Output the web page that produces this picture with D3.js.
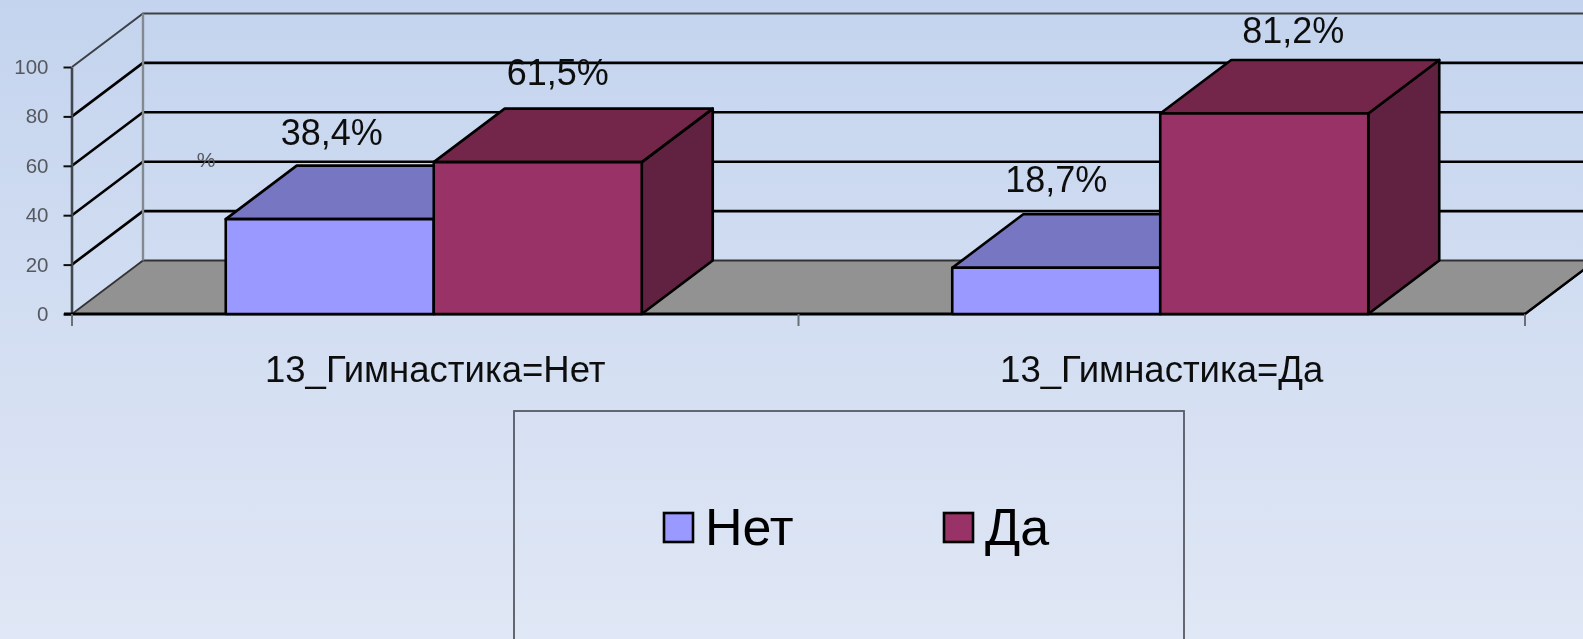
<!DOCTYPE html>
<html><head><meta charset="utf-8">
<script src="https://cdn.jsdelivr.net/npm/d3@7/dist/d3.min.js"></script>
<style>html,body{margin:0;padding:0;overflow:hidden}svg{display:block}text{font-family:"Liberation Sans",Arial,sans-serif}</style>
</head><body><svg id="c" width="1583" height="639"></svg>
<script>
const categories = ["13_Гимнастика=Нет", "13_Гимнастика=Да"];
const seriesNames = ["Нет", "Да"];
const valuesNet = [38.4, 18.7];
const valuesDa = [61.5, 81.2];
const yTicks = [0, 20, 40, 60, 80, 100];
const unitLabel = "%";

const W = 1583, H = 639;
const dx = 71, dy = -53.5;
const left = 72, right = 1525, y0 = 314, y100 = 67;
const front = ["#9999ff", "#993366"], topC = ["#7676c2", "#732849"], sideC = ["#5c5c99", "#60203f"];
const labelShift = [[2, 0], [20, 29]], labelRise = [[74, 76], [77, 70]];

const svg = d3.select("#c");
const defs = svg.append("defs");
const g = defs.append("linearGradient").attr("id", "bg").attr("x1", 0).attr("y1", 0).attr("x2", 0).attr("y2", 1);
g.append("stop").attr("offset", 0).attr("stop-color", "#c4d4ee");
g.append("stop").attr("offset", 1).attr("stop-color", "#e0e7f5");
defs.append("filter").attr("id", "soft").attr("x", "-2%").attr("y", "-2%").attr("width", "104%").attr("height", "104%")
  .append("feGaussianBlur").attr("stdDeviation", 0.6);
svg.append("rect").attr("width", W).attr("height", H).attr("fill", "url(#bg)");

const root = svg.append("g").attr("filter", "url(#soft)");
const y = d3.scaleLinear().domain([0, 100]).range([y0, y100]);
const x = d3.scaleBand().domain(categories).range([left, right]).paddingInner(0.4274).paddingOuter(0.2137);
const xs = d3.scaleBand().domain(seriesNames).range([0, x.bandwidth()]);
const line = d3.line();

// floor
root.append("path").attr("fill", "#929292").attr("stroke", "#333").attr("stroke-width", 1.8)
  .attr("d", line([[left, y0], [left + dx, y0 + dy], [right + dx, y0 + dy], [right, y0]]) + "Z");

// gridlines and wall
const grid = root.append("g");
yTicks.slice(1).forEach(t => {
  const c = t === 100 ? "#3c4048" : "#000";
  grid.append("path").attr("fill", "none").attr("stroke", c).attr("stroke-width", t === 100 ? 2 : 2.6)
    .attr("d", line([[left, y(t)], [left + dx, y(t) + dy], [W, y(t) + dy]]));
});
root.append("line").attr("x1", left + dx).attr("x2", left + dx).attr("y1", y(100) + dy).attr("y2", y0 + dy)
  .attr("stroke", "#84898f").attr("stroke-width", 2.4);

// axes
const ya = d3.axisLeft(y).tickValues(yTicks).tickSize(8).tickPadding(15).tickSizeOuter(0);
const yg = root.append("g").attr("transform", `translate(${left - 0.5},0)`).call(ya);
yg.select(".domain").attr("stroke", "#42464e").attr("stroke-width", 2.6);
yg.selectAll(".tick line").attr("stroke", "#111").attr("stroke-width", 2);
yg.selectAll("text").attr("font-size", 20.5).attr("fill", "#555960").style("font-family", '"Liberation Sans",Arial,sans-serif');

root.append("line").attr("x1", left - 8).attr("x2", right).attr("y1", y0).attr("y2", y0).attr("stroke", "#000").attr("stroke-width", 2.8);
const boundaries = d3.range(categories.length + 1).map(i => left + i * x.step());
root.selectAll(".xt").data(boundaries).join("line").attr("class", "xt")
  .attr("x1", d => d).attr("x2", d => d).attr("y1", y0).attr("y2", y0 + 12)
  .attr("stroke", "#6a6f77").attr("stroke-width", 2);
root.append("line").attr("x1", right).attr("x2", right + dx).attr("y1", y0).attr("y2", y0 + dy).attr("stroke", "#000").attr("stroke-width", 2.4);

root.append("text").text(unitLabel).attr("x", 206).attr("y", 167).attr("text-anchor", "middle").attr("font-size", 21).attr("fill", "#555960");

// bars
const bars = root.append("g");
[valuesNet, valuesDa].forEach((vals, s) => {
  vals.forEach((v, i) => {
    const x1 = x(categories[i]) + xs(seriesNames[s]) - 1.5, x2 = x1 + xs.bandwidth(), t = y(v);
    const gb = bars.append("g").attr("stroke", "#000").attr("stroke-width", 2.6).attr("stroke-linejoin", "round");
    gb.append("path").attr("fill", sideC[s]).attr("d", line([[x2, t], [x2 + dx, t + dy], [x2 + dx, y0 + dy], [x2, y0]]) + "Z");
    gb.append("path").attr("fill", topC[s]).attr("d", line([[x1, t], [x1 + dx, t + dy], [x2 + dx, t + dy], [x2, t]]) + "Z");
    gb.append("rect").attr("x", x1).attr("y", t).attr("width", x2 - x1).attr("height", y0 - t).attr("fill", front[s]);
    root.append("text").text(d3.format(".1f")(v).replace(".", ",") + "%")
      .attr("x", (x1 + x2) / 2 + labelShift[s][i]).attr("y", t - labelRise[s][i])
      .attr("text-anchor", "middle").attr("font-size", 36).attr("fill", "#111");
  });
});

// category labels
root.selectAll(".cat").data(categories).join("text").attr("class", "cat")
  .attr("x", d => x(d) + x.bandwidth() / 2).attr("y", 382).attr("text-anchor", "middle")
  .attr("font-size", 36.5).attr("fill", "#111").text(d => d);

// legend
root.append("rect").attr("x", 514).attr("y", 411).attr("width", 670).attr("height", 260)
  .attr("fill", "none").attr("stroke", "#555a64").attr("stroke-width", 1.8);
const legX = d3.scaleOrdinal().domain(seriesNames).range([664, 944]);
seriesNames.forEach((n, s) => {
  root.append("rect").attr("x", legX(n)).attr("y", 513).attr("width", 29).attr("height", 29)
    .attr("fill", front[s]).attr("stroke", "#000").attr("stroke-width", 2.6);
  root.append("text").text(n).attr("x", legX(n) + 41).attr("y", 545).attr("font-size", 52).attr("fill", "#000");
});
</script></body></html>
